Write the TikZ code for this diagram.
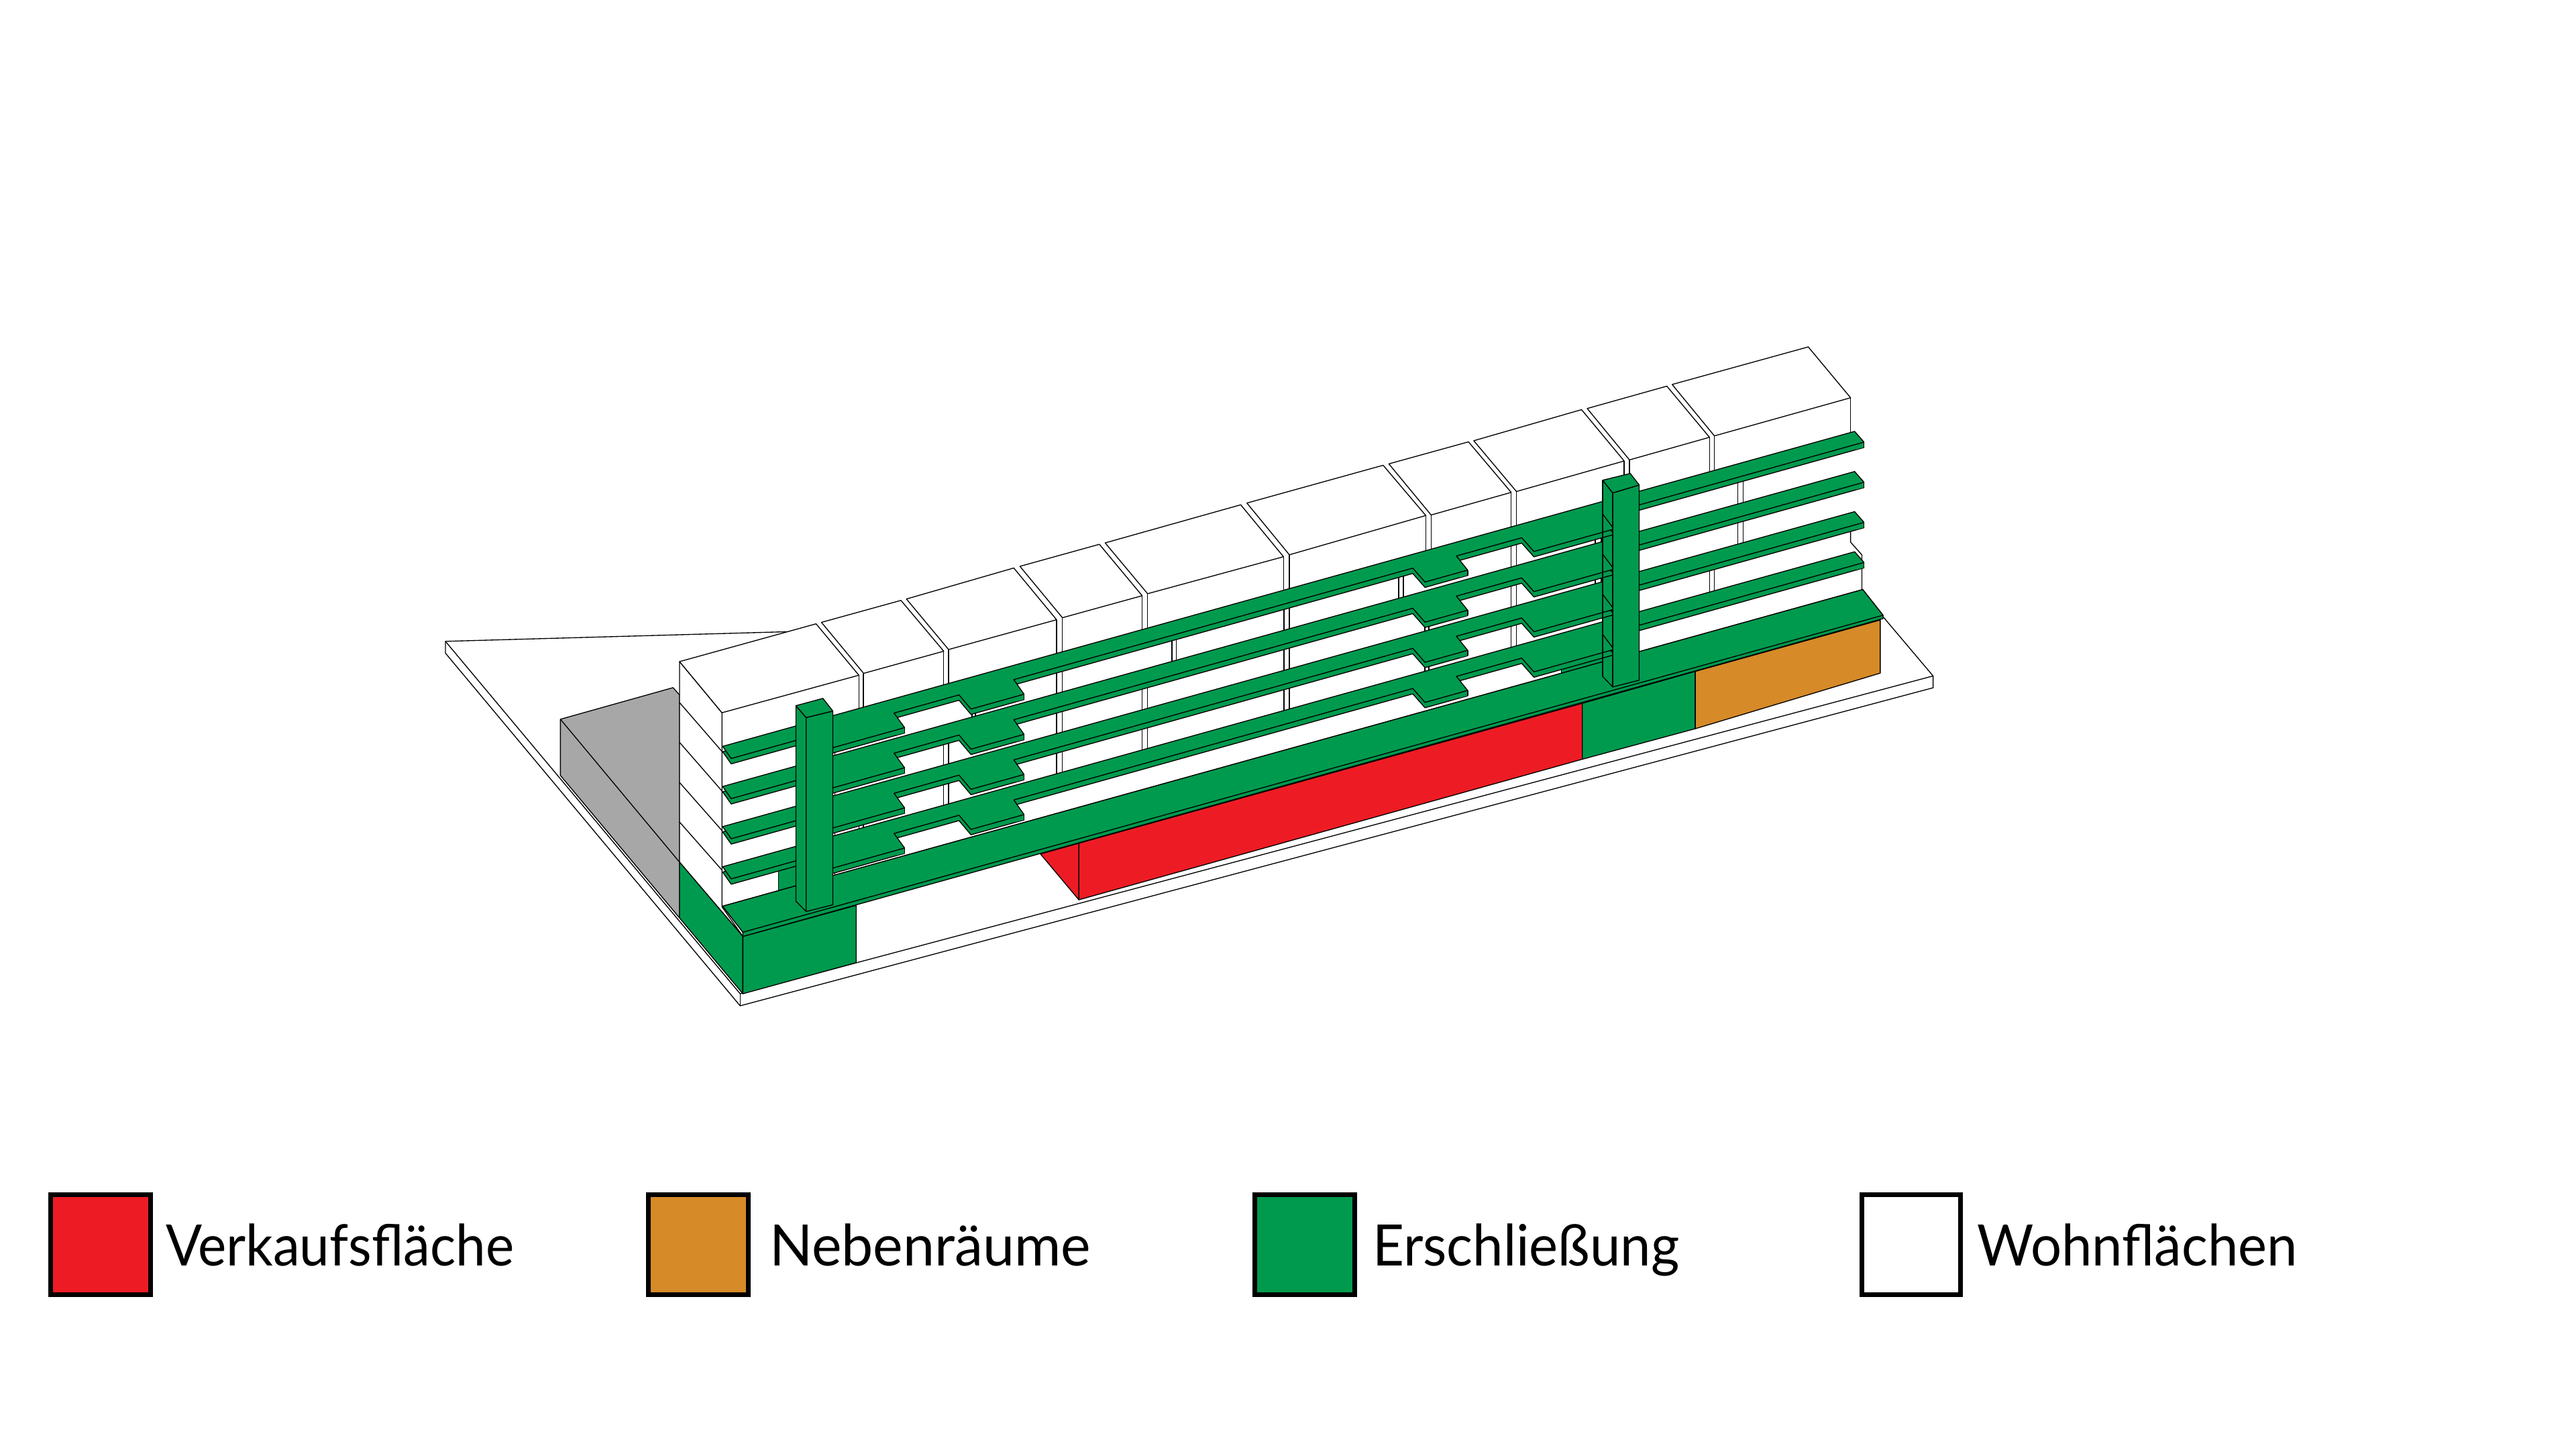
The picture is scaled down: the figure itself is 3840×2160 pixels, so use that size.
\documentclass[tikz,border=0pt]{standalone}
\usepackage{fontspec}
\setmainfont{Lato}
\definecolor{cgreen}{HTML}{009A4E}
\definecolor{cred}{HTML}{ED1C24}
\definecolor{corange}{HTML}{D68A28}
\definecolor{cgray}{HTML}{A7A7A7}
\tikzset{
  thinline/.style={draw=black,line width=0.38pt,line join=round},
  greenface/.style={thinline,fill=cgreen},
  redface/.style={thinline,fill=cred},
  orangeface/.style={thinline,fill=corange},
  grayface/.style={thinline,fill=cgray},
  whiteface/.style={thinline,fill=white},
  swatch/.style={draw=black,line width=2pt,inner sep=0pt,outer sep=0pt,anchor=north west,minimum height=1.49cm},
  legendlabel/.style={anchor=base west,inner sep=0pt,outer sep=0pt,font=\fontsize{24.2pt}{28pt}\selectfont}
}
\newcommand{\galleryleft}{(1077.2,1112.3) -- (2389,747.3) -- (2389,766) -- (2405.9,788.5) -- (2286.6,821.9) -- (2268.4,801.4) -- (2170.9,828.6) -- (2187.8,849.6) -- (2124.2,867.4) -- (2106,846.7) -- (1511.2,1012.8) -- (1526.5,1034.6) -- (1447.4,1056.7) -- (1429.6,1035.6) -- (1332.7,1062.7) -- (1348.5,1084.4) -- (1214,1122) -- (1214,1095.8) -- (1090,1130.4) -- cycle}
\newcommand{\galleryright}{(2420,738.7) -- (2764.6,642.9) -- (2778.6,658.9) -- (2420,759) -- cycle}
\begin{document}
\begin{tikzpicture}[x=0.01cm,y=-0.01cm]
\path[use as bounding box,fill=white] (0,0) rectangle (3840,2160);
% ground plate
\draw[thinline] (1175.7,941.4) -- (664,955.8) -- (664,973.4) -- (1103.3,1499) -- (2881.6,1025) -- (2881.6,1007.4) -- (2805.8,917.7);
\draw[thinline] (664,955.8) -- (1103.3,1481) -- (2881.6,1007.4);
\draw[thinline] (1103.3,1481) -- (1103.3,1499);
% grey neighbouring block
\draw[grayface] (835.4,1071.9) -- (1003.3,1024.8) -- (1013,1035.7) -- (1013,1368) -- (835.4,1155.7) -- cycle;
\draw[thinline] (835.4,1071.9) -- (1013,1284.9);
% building side
\draw[whiteface] (1013,986) -- (1076.2,1062.2) -- (1076.2,1351.4) -- (1107.4,1395.6) -- (1013,1284.9) -- cycle;
\draw[thinline] (1013,1047.1) -- (1076.2,1119.9);
\draw[thinline] (1013,1106.4) -- (1076.2,1178.8);
\draw[thinline] (1013,1166.2) -- (1076.2,1237.8);
\draw[thinline] (1013,1225.1) -- (1076.2,1296.7);
% verticals above the top gallery
\foreach \xx/\yy in {1280.3/1006.3,1287/1004.2,1406.8/970.5,1414/968,1575/923.6,1583.7/920.6,1702.6/887.8,1710.7/884.8,1913.3/829.7,1922/826.8,2125.4/768.3,2133.3/767.5,2252.7/733.8,2260.5/732.5,2421.1/687,2429/685.4,2548.3/651.7,2555.6/649.6,2758.6/592.8}{
  \pgfmathsetmacro\yb{1112.3-0.2782*(\xx-1077.2)+4}
  \draw[thinline] (\xx,\yy) -- (\xx,\yb);
}
% verticals between galleries
\foreach \xx/\rr in {1449/1,1454/1,1575/1,1583.7/1,1747/1,1753.5/1,1914/1,1922/1,2084.8/1,2092/1,2252.7/1,2260.5/1,2378/1,2387/1,2590.7/1,2598.6/1,
  1406.8/2,1414/2,1575/2,1583.7/2,1702.6/2,1710.7/2,1914/2,1922/2,2124/2,2130/2,2252.7/2,2260.5/2,2378/2,2387/2,2590.7/2,2598.6/2,
  1280.3/3,1287/3,1406.8/3,1414/3,1575/3,1583.7/3,1702.6/3,1710.7/3,1914/3,1922/3,2124/3,2130/3,2252.7/3,2260.5/3,2548.3/3,2555.6/3,
  1244.6/1,1244.6/2,1244.6/3,1244.6/4}{
  \pgfmathsetmacro\ya{1112.3-0.2782*(\xx-1077.2)+59.8*(\rr-1)+8}
  \pgfmathsetmacro\yb{1112.3-0.2782*(\xx-1077.2)+59.8*\rr+3}
  \draw[thinline] (\xx,\ya) -- (\xx,\yb);
}
% right end of the building
\draw[thinline] (2758.6,780) -- (2758.6,808) -- (2775.5,827) -- (2775.5,880);
% roof tops
\draw[whiteface] (1013,986) -- (1216.5,929.7) -- (1280.3,1006.3) -- (1076.2,1062.2) -- cycle;
\draw[whiteface] (1224.5,927.5) -- (1343,894.8) -- (1406.8,970.5) -- (1287.4,1003.5) -- cycle;
\draw[whiteface] (1351.2,892.7) -- (1511.2,846.5) -- (1575,923.6) -- (1414,968) -- cycle;
\draw[whiteface] (1520.4,844) -- (1638.8,811.2) -- (1702.6,887.8) -- (1583.7,920.6) -- cycle;
\draw[whiteface] (1647.4,809.1) -- (1849.5,752.3) -- (1913.3,829.7) -- (1710.7,884.8) -- cycle;
\draw[whiteface] (1858.7,749.7) -- (2061.8,693.4) -- (2125.4,768.3) -- (1922,826.8) -- cycle;
\draw[whiteface] (2070.3,691.3) -- (2189,658.5) -- (2252.7,733.8) -- (2133.3,767.5) -- cycle;
\draw[whiteface] (2196.9,656.8) -- (2357.5,610.5) -- (2421.1,687) -- (2260.5,732.5) -- cycle;
\draw[whiteface] (2366,608.8) -- (2484.7,575.5) -- (2548.3,651.7) -- (2429,685.4) -- cycle;
\draw[whiteface] (2492.6,573) -- (2695.5,517) -- (2758.6,592.8) -- (2555.6,649.6) -- cycle;
% ground floor faces
\draw[greenface] (1013,1284.9) -- (1107.4,1395.6) -- (1107.4,1481) -- (1013,1368) -- cycle;
\draw[greenface] (1107.4,1395.6) -- (1276.2,1349.3) -- (1276.2,1434.7) -- (1107.4,1481) -- cycle;
\draw[redface] (1551,1272.7) -- (1608.2,1256.7) -- (1608.2,1341) -- cycle;
\draw[redface] (1608.2,1256.7) -- (2358.7,1048.2) -- (2358.7,1131.5) -- (1608.2,1341) -- cycle;
\draw[greenface] (2358.7,1048.2) -- (2527.1,1000.6) -- (2527.1,1086) -- (2358.7,1131.5) -- cycle;
\draw[orangeface] (2527.1,1000.6) -- (2802.8,924) -- (2802.8,1003.2) -- (2527.1,1086) -- cycle;
% small green pieces behind the stair towers
\fill[cgreen] (1160.4,1290) -- (1190,1280) -- (1190,1325) -- (1160.4,1330) -- cycle;
\draw[thinline] (1160.4,1296.7) -- (1160.4,1328.2);
\fill[cgreen] (2327.2,985) -- (2392,965) -- (2392,990) -- (2327.2,1005) -- cycle;
\draw[thinline] (2327.2,992) -- (2327.2,1003.3);
% base gallery
\draw[greenface] (1077.2,1350.5) -- (1107.4,1389.3) -- (1107.4,1395.6) -- (2807,921.9) -- (2807,916.9) -- (2776.7,878.6) -- cycle;
\draw[greenface] (1077.2,1350.5) -- (2776.7,878.6) -- (2807,916.9) -- (1107.4,1389.3) -- cycle;
% tower 2 side
\draw[greenface] (2389,715.7) -- (2404.1,734.6) -- (2404.1,1023.8) -- (2389,1008.2) -- cycle;
% upper galleries
\foreach \dy in {0,59.8,119.6,179.4}{
  \begin{scope}[shift={(0,\dy)}]
    \begin{scope}[shift={(0,8)}]
      \draw[greenface] \galleryleft;
      \draw[greenface] \galleryright;
    \end{scope}
    \foreach \cx/\cy in {1348.5/1084.4,1526.5/1034.6,2187.8/849.6,2778.6/658.9}{
      \pgfmathsetmacro\cya{\cy+7.6}
      \pgfmathsetmacro\cyb{\cy+10.96}
      \pgfmathsetmacro\cyc{\cy+3.36}
      \pgfmathsetmacro\cyd{\cy+8}
      \pgfmathsetmacro\cxa{\cx-12}
      \fill[cgreen] (\cx,\cy) -- (\cx,\cya) -- (\cxa,\cyb) -- (\cxa,\cyc) -- cycle;
      \draw[thinline] (\cx,\cy) -- (\cx,\cyd);
    }
    \draw[greenface] \galleryleft;
    \draw[greenface] \galleryright;
  \end{scope}
}
% towers
\draw[thinline] (2389,715.7) -- (2389,1008.2);
\draw[greenface] (2404.1,734.6) -- (2443.5,722.8) -- (2443.5,1013.7) -- (2404.1,1023.8) -- cycle;
\draw[greenface] (2389,715.7) -- (2430.2,705.6) -- (2443.5,722.8) -- (2404.1,734.6) -- cycle;
\draw[greenface] (1186.4,1051.7) -- (1201.7,1069.4) -- (1201.7,1358.5) -- (1186.4,1343) -- cycle;
\draw[greenface] (1201.7,1069.4) -- (1241.5,1059.7) -- (1241.5,1348.4) -- (1201.7,1358.5) -- cycle;
\draw[greenface] (1186.4,1051.7) -- (1226.7,1040.8) -- (1241.5,1059.7) -- (1201.7,1069.4) -- cycle;
% legend
\node[swatch,fill=cred,minimum width=1.49cm] (s1) at (75.5,1780.5) {};
\node[swatch,fill=corange,minimum width=1.49cm] (s2) at (966.5,1780.5) {};
\node[swatch,fill=cgreen,minimum width=1.49cm] (s3) at (1870.5,1780.5) {};
\node[swatch,fill=white,minimum width=1.47cm] (s4) at (2775.5,1780.5) {};
\node[legendlabel] (t1) at (247,1886) {\resizebox{5.19cm}{\height}{Verkaufsfläche}};
\node[legendlabel] (t2) at (1147,1886) {\resizebox{4.79cm}{\height}{Nebenräume}};
\node[legendlabel] (t3) at (2046,1886) {\resizebox{4.57cm}{\height}{Erschließung}};
\node[legendlabel] (t4) at (2947.5,1886) {\resizebox{4.77cm}{\height}{Wohnflächen}};
\end{tikzpicture}
\end{document}
